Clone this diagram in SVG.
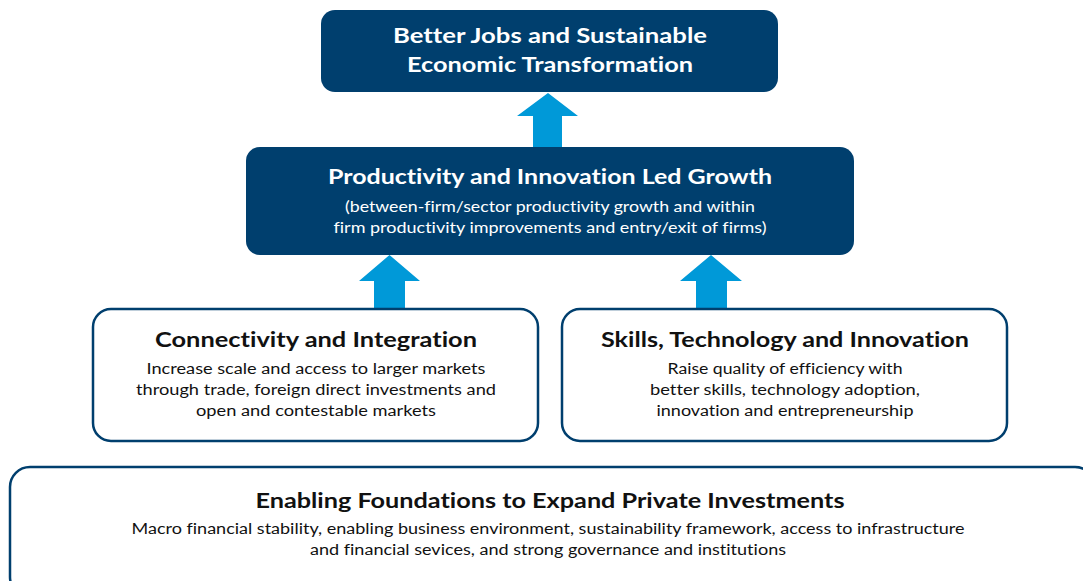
<svg xmlns="http://www.w3.org/2000/svg" width="1083" height="581" viewBox="0 0 1083 581">
<style>
.dark{fill:#003F6E}
.lite{fill:#fff;stroke:#003F6E;stroke-width:2.5}
.arr{fill:#0099D8}
.t{font-family:Lato,"Open Sans",sans-serif;font-weight:700;text-anchor:middle;font-variant-ligatures:none}
.b{font-family:Lato,"Open Sans",sans-serif;font-weight:400;text-anchor:middle;font-variant-ligatures:none}
.w{fill:#fff}
.k{fill:#111}
</style>
<rect width="1083" height="581" fill="#fff"/>
<g id="connectors">
<path class="arr" d="M548 93 L578 116 L562 116 L562 148 L533 148 L533 116 L517 116 Z"/>
<path class="arr" d="M389.5 255 L420 281 L405 281 L405 309 L374 309 L374 281 L359 281 Z"/>
<path class="arr" d="M711 255 L742 281 L727 281 L727 309 L696 309 L696 281 L680 281 Z"/>
</g>
<g id="node-top">
<rect class="dark" x="321" y="10" width="457" height="82" rx="14"/>
<text class="t w" x="550" y="43" font-size="21" textLength="314" lengthAdjust="spacingAndGlyphs">Better Jobs and Sustainable</text>
<text class="t w" x="550" y="72" font-size="21" textLength="286" lengthAdjust="spacingAndGlyphs">Economic Transformation</text>
</g>
<g id="node-mid">
<rect class="dark" x="246" y="147" width="608" height="108" rx="14"/>
<text class="t w" x="550" y="184" font-size="21" textLength="444" lengthAdjust="spacingAndGlyphs">Productivity and Innovation Led Growth</text>
<text class="b w" x="550" y="212" font-size="15" textLength="410" lengthAdjust="spacingAndGlyphs">(between-firm/sector productivity growth and within</text>
<text class="b w" x="550" y="233" font-size="15" textLength="433" lengthAdjust="spacingAndGlyphs">firm productivity improvements and entry/exit of firms)</text>
</g>
<g id="node-left">
<rect class="lite" x="93" y="309" width="445" height="132" rx="18"/>
<text class="t k" x="316" y="347" font-size="21" textLength="322" lengthAdjust="spacingAndGlyphs">Connectivity and Integration</text>
<text class="b k" x="316" y="374" font-size="15.5" textLength="339" lengthAdjust="spacingAndGlyphs">Increase scale and access to larger markets</text>
<text class="b k" x="316" y="395" font-size="15.5" textLength="360" lengthAdjust="spacingAndGlyphs">through trade, foreign direct investments and</text>
<text class="b k" x="316" y="416" font-size="15.5" textLength="240" lengthAdjust="spacingAndGlyphs">open and contestable markets</text>
</g>
<g id="node-right">
<rect class="lite" x="562" y="309" width="445" height="132" rx="18"/>
<text class="t k" x="785" y="347" font-size="21" textLength="368" lengthAdjust="spacingAndGlyphs">Skills, Technology and Innovation</text>
<text class="b k" x="785" y="374" font-size="15.5" textLength="235" lengthAdjust="spacingAndGlyphs">Raise quality of efficiency with</text>
<text class="b k" x="785" y="395" font-size="15.5" textLength="270" lengthAdjust="spacingAndGlyphs">better skills, technology adoption,</text>
<text class="b k" x="785" y="416" font-size="15.5" textLength="257" lengthAdjust="spacingAndGlyphs">innovation and entrepreneurship</text>
</g>
<g id="node-bottom">
<rect class="lite" x="10" y="467" width="1085" height="130" rx="20"/>
<text class="t k" x="550" y="508" font-size="21" textLength="589" lengthAdjust="spacingAndGlyphs">Enabling Foundations to Expand Private Investments</text>
<text class="b k" x="548" y="534" font-size="15.5" textLength="833" lengthAdjust="spacingAndGlyphs">Macro financial stability, enabling business environment, sustainability framework, access to infrastructure</text>
<text class="b k" x="548" y="555" font-size="15.5" textLength="476" lengthAdjust="spacingAndGlyphs">and financial sevices, and strong governance and institutions</text>
</g>
</svg>
